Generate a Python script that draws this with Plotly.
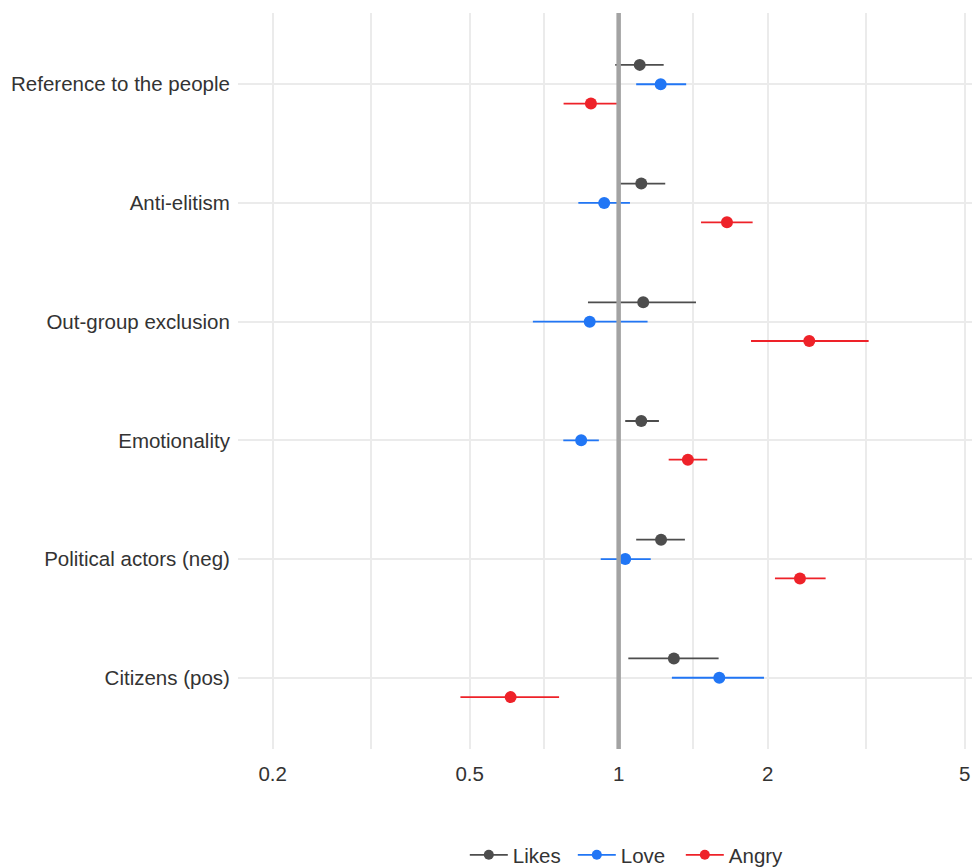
import plotly.graph_objects as go

categories = ["Reference to the people", "Anti-elitism", "Out-group exclusion",
              "Emotionality", "Political actors (neg)", "Citizens (pos)"]

series_names = ["Likes", "Love", "Angry"]

likes_est = [1.103, 1.111, 1.121, 1.111, 1.218, 1.293]
likes_lo = [0.984, 0.994, 0.867, 1.031, 1.085, 1.046]
likes_hi = [1.233, 1.242, 1.433, 1.206, 1.361, 1.592]

love_est = [1.216, 0.935, 0.874, 0.840, 1.031, 1.597]
love_lo = [1.085, 0.829, 0.671, 0.773, 0.920, 1.281]
love_hi = [1.369, 1.054, 1.144, 0.912, 1.161, 1.966]

angry_est = [0.879, 1.655, 2.427, 1.380, 2.324, 0.605]
angry_lo = [0.774, 1.467, 1.851, 1.262, 2.069, 0.479]
angry_hi = [0.992, 1.865, 3.199, 1.510, 2.619, 0.758]

x_ticks = [0.2, 0.5, 1, 2, 5]
x_tick_labels = ["0.2", "0.5", "1", "2", "5"]
x_minor_ticks = [0.1 ** 0.5, 0.5 ** 0.5, 2 ** 0.5, 10 ** 0.5]
ref_value = 1

colors = {"Likes": "#4D4D4D", "Love": "#2176F5", "Angry": "#EE2229"}
dodge = {"Likes": 0.163, "Love": 0.0, "Angry": -0.163}

data = {
    "Likes": (likes_est, likes_lo, likes_hi),
    "Love": (love_est, love_lo, love_hi),
    "Angry": (angry_est, angry_lo, angry_hi),
}

n = len(categories)
cat_pos = [n - 1 - i for i in range(n)]

fig = go.Figure()

# CI lines
for name in series_names:
    est, lo, hi = data[name]
    xs, ys = [], []
    for i in range(n):
        yv = cat_pos[i] + dodge[name]
        xs += [lo[i], hi[i], None]
        ys += [yv, yv, None]
    fig.add_trace(go.Scatter(x=xs, y=ys, mode="lines",
                             line=dict(color=colors[name], width=1.8),
                             showlegend=False, hoverinfo="skip",
                             legendgroup=name))

# Points
for name in series_names:
    est, lo, hi = data[name]
    ys = [cat_pos[i] + dodge[name] for i in range(n)]
    fig.add_trace(go.Scatter(x=est, y=ys, mode="markers",
                             marker=dict(color=colors[name], size=12),
                             showlegend=False, legendgroup=name, name=name))

# Legend entries
for name in series_names:
    fig.add_trace(go.Scatter(x=[None], y=[None], mode="lines+markers",
                             line=dict(color=colors[name], width=1.8),
                             marker=dict(color=colors[name], size=10),
                             name=name, legendgroup=name))

fig.add_shape(type="line", xref="x", yref="paper", x0=ref_value, x1=ref_value,
              y0=0, y1=1, line=dict(color="#A3A3A3", width=4.5), layer="above")

font_family = "Liberation Sans, Arial, sans-serif"
text_color = "#333333"
fs = 20.5

# page body has an 8px margin: margins are shifted to compensate
fig.update_layout(
    width=980, height=867,
    margin=dict(l=230, r=8, t=5, b=126, autoexpand=False),
    paper_bgcolor="white", plot_bgcolor="white",
    font=dict(family=font_family, size=fs, color=text_color),
    xaxis=dict(type="log", range=[-0.769, 0.730], automargin=False,
               tickvals=x_ticks, ticktext=x_tick_labels,
               showgrid=True, gridcolor="#EBEBEB", gridwidth=1.5,
               zeroline=False, showline=False,
               ticks="outside", ticklen=6, tickcolor="rgba(0,0,0,0)",
               tickfont=dict(size=fs, color=text_color),
               minor=dict(tickvals=x_minor_ticks, showgrid=True,
                          gridcolor="#EBEBEB", gridwidth=1.5, ticks="")),
    yaxis=dict(range=[-0.6, n - 1 + 0.6], automargin=False,
               tickvals=cat_pos, ticktext=categories,
               showgrid=True, gridcolor="#EBEBEB", gridwidth=1.5,
               zeroline=False, showline=False,
               ticks="outside", ticklen=3, tickcolor="rgba(0,0,0,0)",
               tickfont=dict(size=fs, color=text_color)),
    legend=dict(orientation="h", x=0.524, xanchor="center",
                yref="container", y=0.0231, yanchor="middle",
                font=dict(size=fs, color=text_color),
                itemwidth=38, entrywidth=55, tracegroupgap=0),
    showlegend=True,
)

fig.write_html("out.html")
